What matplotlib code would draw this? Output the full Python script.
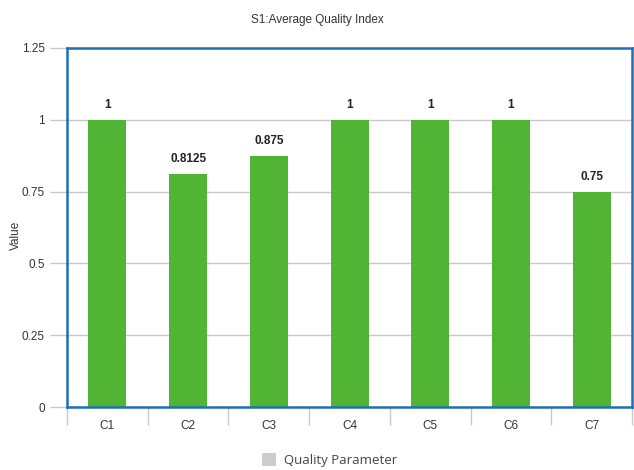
import matplotlib
matplotlib.use("Agg")
import matplotlib.pyplot as plt
from matplotlib.patches import Patch
import numpy as np

categories = ["C1", "C2", "C3", "C4", "C5", "C6", "C7"]
values = [1, 0.8125, 0.875, 1, 1, 1, 0.75]
value_labels = ["1", "0.8125", "0.875", "1", "1", "1", "0.75"]
y_ticks = [0, 0.25, 0.5, 0.75, 1, 1.25]
y_tick_labels = ["0", "0.25", "0.5", "0.75", "1", "1.25"]

plt.rcParams['font.family'] = ['Liberation Sans', 'DejaVu Sans']

fig = plt.figure(figsize=(6.34, 4.70), dpi=100)
ax = fig.add_axes([0.1057, 0.134, 0.8913, 0.764])

x = np.arange(len(categories))
ax.bar(x, values, width=0.47, color="#52b435", zorder=3)

for xi, v, lab in zip(x, values, value_labels):
    ax.annotate(lab, (xi, v), xytext=(0, 6), textcoords="offset points",
                ha="center", va="bottom", fontsize=8.5, fontweight="bold", color="#222222")

ax.set_xlim(-0.5, len(categories) - 0.5)
ax.set_ylim(0, 1.25)
ax.set_yticks(y_ticks)
ax.set_yticklabels(y_tick_labels, fontsize=8.5, color="#333333")
ax.yaxis.grid(True, color="#c8c8c8", linewidth=1, zorder=0)

# category labels centred, separator ticks at category edges
ax.set_xticks(x)
ax.set_xticklabels(categories, fontsize=8.5, color="#333333")
ax.tick_params(axis="x", length=0, pad=9)
ax.set_xticks(np.arange(len(categories) + 1) - 0.5, minor=True)
ax.tick_params(axis="x", which="minor", length=13, color="#c8c8c8", width=1)
ax.tick_params(axis="y", length=12, color="#c8c8c8", width=1, pad=4)

for sp in ax.spines.values():
    sp.set_color("#1f6fb8")
    sp.set_linewidth(1.8)
    sp.set_zorder(4)

fig.text(0.025, 0.5, "Value", rotation=90, ha="center", va="center",
         fontsize=8.5, color="#333333")
fig.text(0.5, 0.957, "S1:Average Quality Index", ha="center", va="center",
         fontsize=8.5, color="#333333")

fig.legend(handles=[Patch(facecolor="#cccccc", edgecolor="none")],
           labels=["Quality Parameter"], loc="center", bbox_to_anchor=(0.52, 0.021),
           frameon=False, handlelength=1.1, handleheight=1.1, handletextpad=0.6,
           prop={"family": "Open Sans", "size": 9.5}, labelcolor="#444444")

fig.savefig("out.png", dpi=100)
